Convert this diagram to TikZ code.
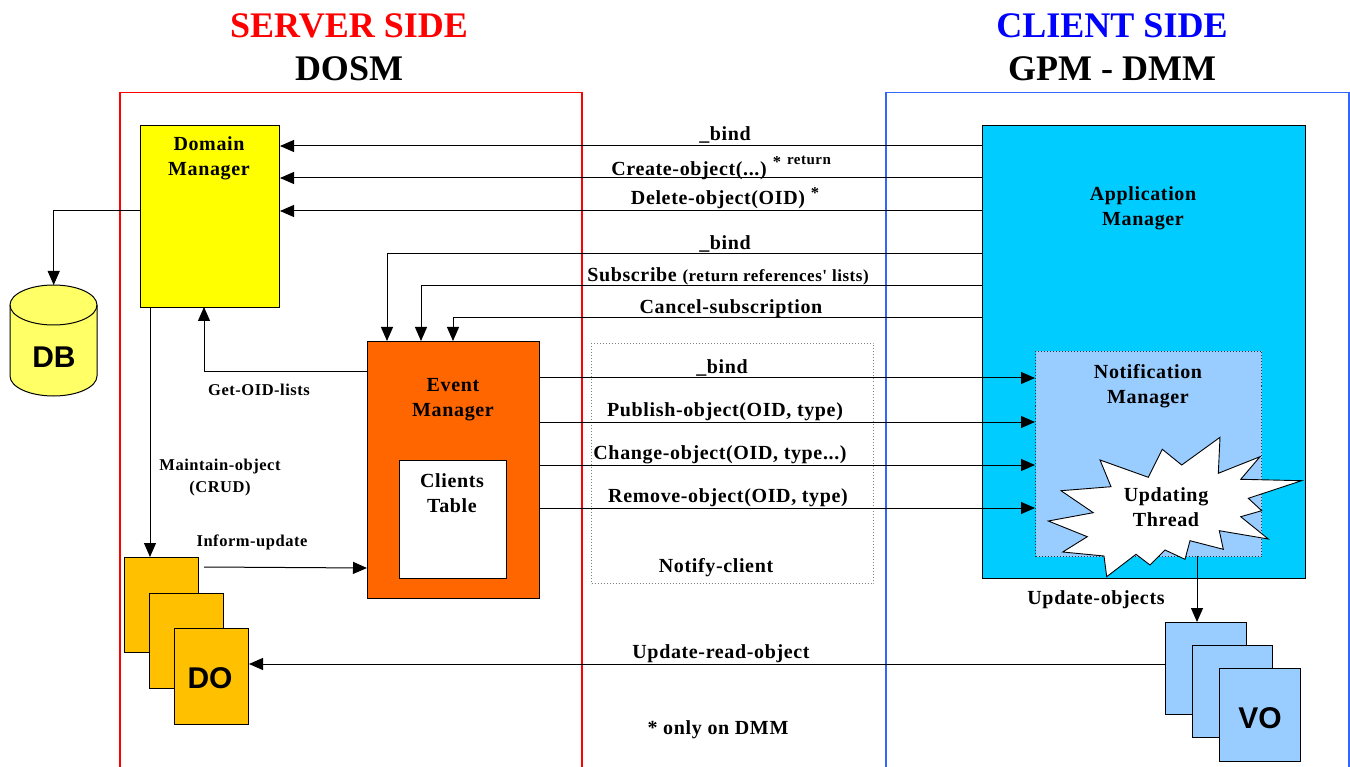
\documentclass[tikz,border=0pt]{standalone}
\usepackage{fontspec}
\setmainfont{Liberation Serif}
\newfontfamily\spaced[LetterSpace=3.2]{Liberation Serif}
\newfontfamily\sansbold{Liberation Sans}
\usetikzlibrary{arrows.meta,calc}
\definecolor{cyanbox}{HTML}{00CCFF}
\definecolor{lightbluebox}{HTML}{99CCFF}
\definecolor{orangebox}{HTML}{FF6600}
\definecolor{goldbox}{HTML}{FFC000}
\definecolor{dbfill}{HTML}{FFFF66}
\definecolor{sideblue}{HTML}{3366FF}
\definecolor{sidered}{HTML}{FF0000}
\definecolor{domainyellow}{HTML}{FFFF00}
\tikzset{
  box/.style={draw=black,line width=1pt,inner sep=0pt,anchor=north west},
  panel/.style={line width=1.5pt,fill=none,inner sep=0pt,anchor=north west},
  txt/.style={font=\spaced\fontsize{20}{25}\selectfont\bfseries,align=center,inner sep=0pt,text=black},
  small/.style={font=\spaced\fontsize{16.5}{22}\selectfont\bfseries,align=center,inner sep=0pt,text=black},
  head/.style={font=\fontsize{36}{40}\selectfont\bfseries,inner sep=0pt},
  big/.style={font=\sansbold\fontsize{30}{34}\selectfont\bfseries,inner sep=0pt},
  arr/.style={draw=black,line width=1pt,-{Triangle[length=14pt,width=12pt]}}
}
\newcommand{\bx}[7]{\node[box,fill=#6,minimum width=#4pt-#2pt,minimum height=#5pt-#3pt,#7] (#1) at (#2,#3) {};}
\begin{document}
\begin{tikzpicture}[x=1pt,y=-1pt]
\useasboundingbox (0,0) rectangle (1350,767);
\clip (0,0) rectangle (1350,767);
% side panels
\node[panel,draw=sidered,minimum width=462pt,minimum height=690pt] (server) at (119,92) {};
\node[panel,draw=sideblue,minimum width=463pt,minimum height=690pt] (client) at (885,92) {};
\node[head,text=sidered] (th1) at (349,26) {SERVER SIDE};
\node[head] (th2) at (349,68.5) {DOSM};
\node[head,text=blue] (th3) at (1112,26) {CLIENT SIDE};
\node[head] (th4) at (1112,68.5) {GPM - DMM};
% notify frame
\node[box,draw=gray,dotted,minimum width=282pt,minimum height=240pt] (notify) at (591,343) {};
% boxes
\bx{dm}{140}{125}{279}{307}{domainyellow}{}
\bx{em}{367}{341}{539}{598}{orangebox}{}
\bx{ct}{399}{460}{506}{578}{white}{}
\bx{am}{982}{125}{1305}{578}{cyanbox}{}
\node[box,draw=black!80,dotted,fill=lightbluebox,minimum width=226pt,minimum height=205pt] (nm) at (1035,351) {};
% starburst
\filldraw[fill=white,draw=black,line width=0.9pt] (1100,460)--(1148.3,477.3)--(1162.3,449.3)--(1181.7,465)--(1220,437.3)--(1218.3,473.3)--(1260,456.7)--(1240.7,479.3)--(1301.7,480.7)--(1248.3,498.3)--(1261.7,510.7)--(1240.7,516.7)--(1268.3,539)--(1219.3,530.7)--(1223.3,549.3)--(1190,540.7)--(1185,559.3)--(1165,550)--(1150,565)--(1136,554.3)--(1106.7,576.7)--(1104,556)--(1062.7,552)--(1087.3,536.7)--(1048.3,521)--(1093.3,512.7)--(1061,490.7)--(1111,486.7)--cycle;
% documents
\bx{do1}{124}{557}{198}{652}{goldbox}{}
\bx{do2}{149}{593}{223}{688}{goldbox}{}
\bx{do3}{174}{628}{248}{724}{goldbox}{}
\bx{vo1}{1165}{622}{1246}{714}{lightbluebox}{}
\bx{vo2}{1192}{645}{1272}{737}{lightbluebox}{}
\bx{vo3}{1219}{668}{1300}{761}{lightbluebox}{}
% database
\node[inner sep=0pt,minimum width=87pt,minimum height=111pt,anchor=north west] (db) at (10,285) {};
\filldraw[fill=dbfill,draw=black,line width=1pt] (db.north west)++(0,20) arc[start angle=180,end angle=0,x radius=43.5,y radius=-20] -- ++(0,71) arc[start angle=0,end angle=-180,x radius=43.5,y radius=-20] -- cycle;
\draw[black,line width=1pt] ($(db.north west)+(0,20)$) arc[start angle=180,end angle=360,x radius=43.5,y radius=-20];
% connectors
\foreach \yy in {146,178,211} \draw[arr] (am.west |- 0,\yy) -- (dm.east |- 0,\yy);
\coordinate (b1) at (387,341);
\coordinate (b2) at (421,341);
\coordinate (b3) at (453,341);
\draw[arr] (am.west |- 0,254) -| (b1);
\draw[arr] (am.west |- 0,286) -| (b2);
\draw[arr] (am.west |- 0,318) -| (b3);
\foreach \yy in {378,422,465,508} \draw[arr] (em.east |- 0,\yy) -- (nm.west |- 0,\yy);
\draw[arr] (dm.west |- 0,211) -| (db.north);
\draw[arr] (em.west |- 0,372) -| (204,307);
\draw[arr] (150,307) -- (150,557);
\draw[arr] (204,567) -- (em.west |- 0,568);
\draw[arr] (vo1.west |- 0,664) -- (do3.east |- 0,664);
\draw[arr] (1197,556) -- (1197,622);
% box labels
\node[txt] (l1) at (209,158.5) {Domain\\Manager};
\node[txt] (l2) at (453,400) {Event\\Manager};
\node[txt] (l3) at (452,493) {Clients\\Table};
\node[txt] (l4) at (1143,208.5) {Application\\Manager};
\node[txt] (l5) at (1148,386) {Notification\\Manager};
\node[txt] (l6) at (1166,507) {Updating\\Thread};
\node[big] (l7) at (54,357) {DB};
\node[big] (l8) at (210,678) {DO};
\node[big] (l9) at (1260,718) {VO};
% connector labels
\node[txt] (c1) at (725,135) {\_bind};
\node[txt] (c2) at (689,171) {Create-object(...)};
\node[small] (c2a) at (777,162) {*};
\node[small,font=\spaced\fontsize{15}{18}\selectfont\bfseries] (c2b) at (809,160) {return};
\node[txt] (c3) at (718,200) {Delete-object(OID)};
\node[small] (c3a) at (815,193) {*};
\node[txt] (c4) at (725,244) {\_bind};
\node[txt] (c5) at (728,276.5) {Subscribe {\fontsize{17}{20}\selectfont (return references' lists)}};
\node[txt] (c6) at (731,309) {Cancel-subscription};
\node[txt] (c7) at (722,368) {\_bind};
\node[txt] (c8) at (725,412) {Publish-object(OID, type)};
\node[txt] (c9) at (720,455) {Change-object(OID, type...)};
\node[txt] (c10) at (728,498) {Remove-object(OID, type)};
\node[txt] (c11) at (716,568) {Notify-client};
\node[txt] (c12) at (721,654) {Update-read-object};
\node[txt] (c13) at (718,730) {* only on DMM};
\node[txt] (c14) at (1096,600) {Update-objects};
\node[small] (c15) at (259,390) {Get-OID-lists};
\node[small] (c16) at (220,478) {Maintain-object\\(CRUD)};
\node[small] (c17) at (252,542) {Inform-update};
\end{tikzpicture}
\end{document}
